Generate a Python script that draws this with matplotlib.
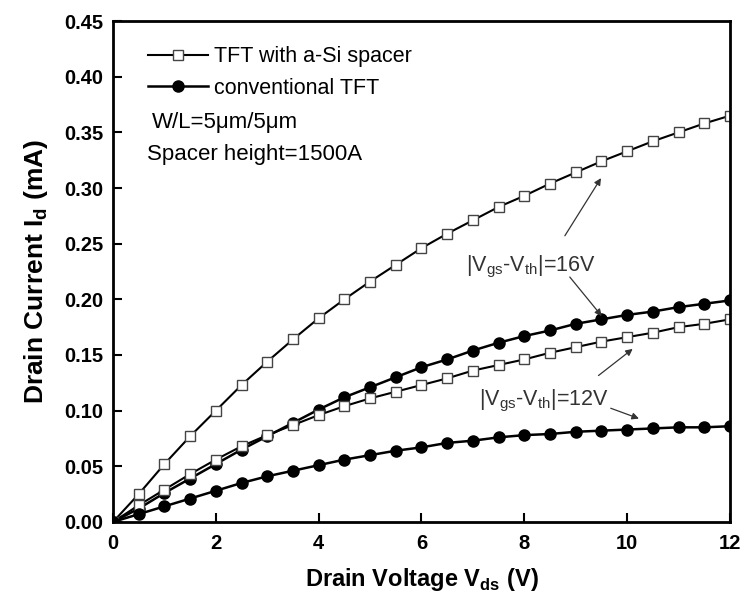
import numpy as np
import matplotlib.pyplot as plt

plt.rcParams['font.family'] = ['Liberation Sans', 'DejaVu Sans']
plt.rcParams['mathtext.fontset'] = 'custom'
plt.rcParams['mathtext.rm'] = 'Liberation Sans'
plt.rcParams['mathtext.bf'] = 'Liberation Sans:bold'

# drain voltage sweep (V)
vds = np.arange(0, 12.01, 0.5)

# drain current (mA)
spacer_16v = [0.0, 0.025, 0.052, 0.077, 0.100, 0.123, 0.144, 0.164, 0.183, 0.200,
              0.216, 0.231, 0.246, 0.259, 0.271, 0.283, 0.293, 0.304, 0.314, 0.324,
              0.333, 0.342, 0.350, 0.358, 0.365]
conv_16v = [0.0, 0.012, 0.026, 0.039, 0.052, 0.065, 0.077, 0.089, 0.101, 0.112,
            0.121, 0.130, 0.139, 0.146, 0.154, 0.161, 0.167, 0.172, 0.178, 0.182,
            0.186, 0.189, 0.193, 0.196, 0.199]
spacer_12v = [0.0, 0.015, 0.029, 0.043, 0.056, 0.068, 0.078, 0.087, 0.096, 0.104,
              0.111, 0.117, 0.123, 0.129, 0.136, 0.141, 0.146, 0.152, 0.157, 0.162,
              0.166, 0.170, 0.175, 0.178, 0.182]
conv_12v = [0.0, 0.007, 0.014, 0.021, 0.028, 0.035, 0.041, 0.046, 0.051, 0.056,
            0.060, 0.064, 0.067, 0.071, 0.073, 0.076, 0.078, 0.079, 0.081, 0.082,
            0.083, 0.084, 0.085, 0.085, 0.086]

fig = plt.figure(figsize=(7.46, 6.02), dpi=100)
ax = fig.add_axes([0.1515, 0.133, 0.827, 0.832])

sq = dict(color='black', lw=1.5, marker='s', ms=7.5, mfc='white', mec='#444444', mew=1.0)
ci = dict(color='black', lw=1.8, marker='o', ms=8, mfc='black', mec='black')

ax.plot(vds, spacer_16v, label='TFT with a-Si spacer', **sq)
ax.plot(vds, conv_16v, label='conventional TFT', **ci)
ax.plot(vds, spacer_12v, **sq)
ax.plot(vds, conv_12v, **ci)

ax.set_xlim(0, 12)
ax.set_ylim(0, 0.45)
ax.set_xticks(np.arange(0, 13, 2))
ax.set_yticks(np.arange(0, 0.451, 0.05))
ax.set_yticklabels(['%.2f' % v for v in np.arange(0, 0.451, 0.05)])
ax.tick_params(direction='in', length=6.5, width=1.5, labelsize=14.5)
ax.tick_params(axis='x', pad=9)
ax.tick_params(axis='y', pad=7)
for lab in ax.get_xticklabels() + ax.get_yticklabels():
    lab.set_fontweight('bold')
for s in ax.spines.values():
    s.set_linewidth(2)

ax.set_xlabel(r'Drain Voltage V$_\mathbf{ds}$ (V)', fontsize=17, fontweight='bold', labelpad=9)
ax.set_ylabel(r'Drain Current I$_\mathbf{d}$ (mA)', fontsize=19, fontweight='bold', labelpad=10)

ax.legend(loc='upper left', frameon=False, fontsize=15.5, handlelength=2.8,
          handletextpad=0.3, labelspacing=0.5, borderaxespad=0,
          bbox_to_anchor=(0.042, 0.967))
ax.text(0.76, 0.359, 'W/L=5μm/5μm', fontsize=16, va='center')
ax.text(0.66, 0.3297, 'Spacer height=1500A', fontsize=16, va='center')

tc = '#333333'
ax.text(6.87, 0.229, r'|V$_\mathregular{gs}$-V$_\mathregular{th}$|=16V', fontsize=15.5, color=tc, va='center')
ax.annotate('', xy=(9.52, 0.311), xytext=(8.76, 0.255),
            arrowprops=dict(arrowstyle='-|>', color=tc, lw=0.9, mutation_scale=10))
ax.annotate('', xy=(9.54, 0.183), xytext=(8.85, 0.222),
            arrowprops=dict(arrowstyle='-|>', color=tc, lw=0.9, mutation_scale=10))

ax.text(7.12, 0.109, r'|V$_\mathregular{gs}$-V$_\mathregular{th}$|=12V', fontsize=15.5, color=tc, va='center')
ax.annotate('', xy=(10.15, 0.157), xytext=(9.4, 0.13),
            arrowprops=dict(arrowstyle='-|>', color=tc, lw=0.9, mutation_scale=10))
ax.annotate('', xy=(10.28, 0.092), xytext=(9.63, 0.103),
            arrowprops=dict(arrowstyle='-|>', color=tc, lw=0.9, mutation_scale=10))

fig.savefig('out.png', dpi=100)
